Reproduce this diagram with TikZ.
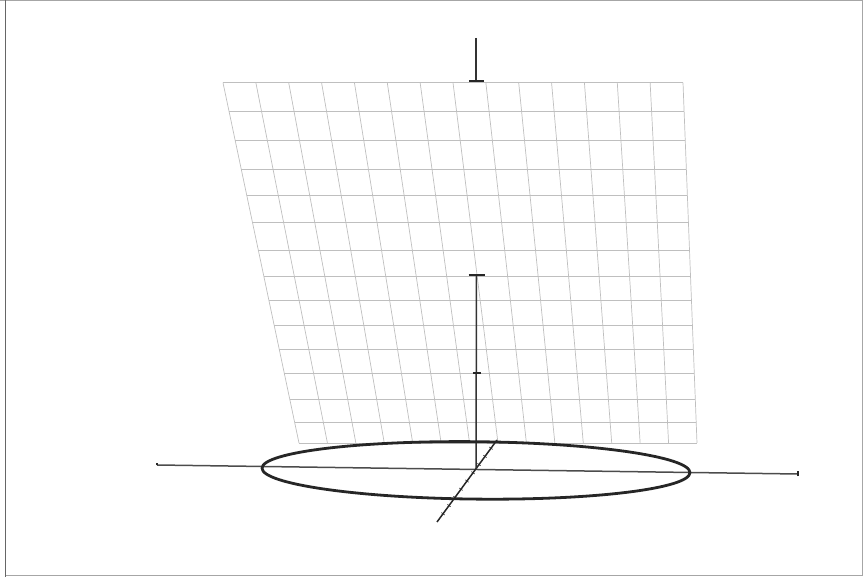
\documentclass[tikz,border=0pt]{standalone}
\usetikzlibrary{calc}
\begin{document}
\begin{tikzpicture}[x=1pt,y=-1pt,
  gridline/.style={draw=black!25, line width=0.7pt},
  axisline/.style={draw=black!80, line width=1.5pt},
  tickline/.style={draw=black!85, line width=1.3pt},
  ringline/.style={draw=black!85, line width=2.8pt},
  frameline/.style={draw=black!35, line width=0.8pt}]
\useasboundingbox (0,0) rectangle (863,577);
% frame
\draw[frameline] (0,0.5) -- (862.5,0.5) -- (862.5,575.8) -- (5,575.8);
\draw[draw=black!60, line width=1pt] (5,0) -- (5,577);
% grid corners
\coordinate (TL) at (223,82.7);
\coordinate (TR) at (683,82.7);
\coordinate (BL) at (299,443);
\coordinate (BR) at (697,443);
% vertical grid lines
\foreach \i in {0,...,14}{
  \draw[gridline] ($(TL)!\i/14!(TR)$) -- ($(BL)!\i/14!(BR)$);
}
% horizontal grid lines
\foreach \yy in {82.7,111.7,140.7,169,195,222.7,250,276,300.5,325,349.3,373.5,399,422,443}{
  \pgfmathsetmacro{\t}{(\yy-82.7)/360.3}
  \pgfmathsetmacro{\xl}{223+76*\t}
  \pgfmathsetmacro{\xr}{683+14*\t}
  \draw[gridline] (\xl,\yy) -- (\xr,\yy);
}
% axes
\coordinate (O) at (476,469);
\coordinate (xm) at (157,465);
\coordinate (xp) at (798,474);
\coordinate (ym) at (437,522);
\coordinate (yp) at (497,440);
\coordinate (zt) at (476.5,275);
\coordinate (zl) at (476.5,373);
\coordinate (za) at (476,38);
\coordinate (zb) at (476,81);
\draw[axisline, draw=black!70] (xm) -- (xp);
\draw[tickline] (xm) -- ++(0,-2);
\draw[tickline] (xp) -- ++(0,-2.5) ++(0,5) -- (xp);
\draw[axisline, draw=black!85] (ym) -- (yp);
\foreach \k in {0.1,0.2,...,0.9}{
  \draw[black!80, line width=0.7pt] ($(ym)!\k!(yp)$) ++(-1.6,-1.2) -- ++(3.2,2.4);
}
\draw[axisline] (O) -- (zt);
\draw[tickline] (zt) ++(-8,0) -- ++(16,0);
\draw[tickline] (zl) ++(-4,0) -- ++(8,0);
\draw[axisline] (za) -- (zb);
\draw[tickline] (zb) ++(-7,0) -- ++(15,0);
% ring
\draw[ringline, rotate around={-0.6:(476,470.4)}] (476,470.4) ellipse [x radius=214, y radius=28.7];
\end{tikzpicture}
\end{document}
